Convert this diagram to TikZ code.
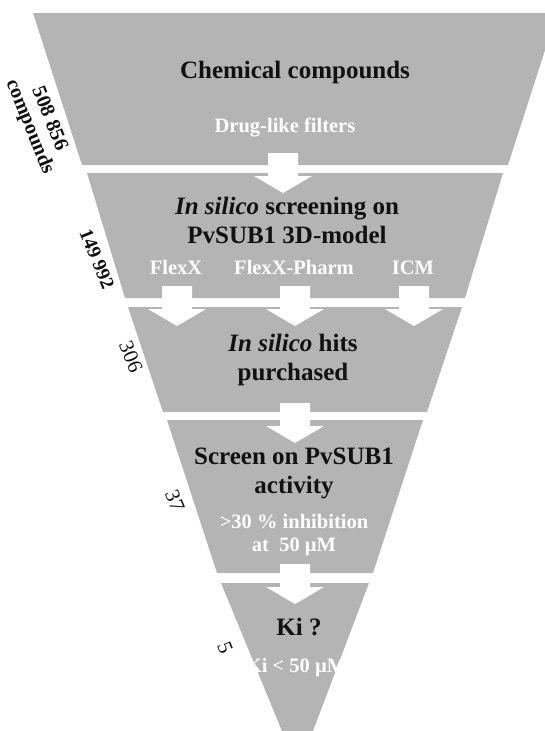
\documentclass[tikz,border=0pt]{standalone}
\usepackage{fontspec}
\setmainfont{Liberation Serif}
\definecolor{funnelgray}{RGB}{180,180,180}
\definecolor{inkblack}{RGB}{17,17,17}
\tikzset{
  pics/blockarrow/.style={code={
    \fill[white] (-15,0) -- (15,0) -- (15,23) -- (29,23) -- (0,40)
      -- (-29,23) -- (-15,23) -- cycle;}}
}

\begin{document}
\begin{tikzpicture}[x=1pt, y=-1pt,
    band/.style={fill=funnelgray},
    title/.style={anchor=base, align=center, text=inkblack, inner sep=0pt,
      font=\bfseries\fontsize{25}{29}\selectfont},
    filter/.style={anchor=base, align=center, text=white, inner sep=0pt,
      font=\bfseries\fontsize{20.5}{23}\selectfont},
    count/.style={rotate=-68, align=center, text=inkblack, inner sep=0pt,
      font=\fontsize{21}{21}\selectfont}]
  \useasboundingbox (0,0) rectangle (545,731);
  \clip (0,0) rectangle (545,731);

  % funnel bands
  \fill[band] (33,13) -- (557,13) -- (508,165) -- (82,165) -- cycle;
  \fill[band] (87,173) -- (503,173) -- (465,298) -- (125,298) -- cycle;
  \fill[band] (128,307) -- (462,307) -- (427,412) -- (163,412) -- cycle;
  \fill[band] (167,420) -- (423,420) -- (373,573) -- (217,573) -- cycle;
  \fill[band] (221,583) -- (369,583) -- (313,731) -- (282,731) -- cycle;

  % arrows between the bands
  \pic at (283,153) {blockarrow};
  \foreach \ax in {177,295,414}
    \pic at (\ax,286) {blockarrow};
  \pic at (295,403) {blockarrow};
  \pic at (295,564) {blockarrow};

  % texts in the funnel (base = last line)
  \node[title] (chem) at (295,78) {Chemical compounds};
  \node[filter] (filters) at (285,132) {Drug-like filters};
  \node[title] (screen) at (287,243) {\textit{In silico} screening on\\PvSUB1 3D-model};
  \node[filter] (flexx) at (176,274) {FlexX};
  \node[filter] (pharm) at (294,274) {FlexX-Pharm};
  \node[filter] (icm) at (413,274) {ICM};
  \node[title] (hits) at (293,380) {\textit{In silico} hits\\purchased};
  \node[title] (assay) at (294,493) {Screen on PvSUB1\\activity};
  \node[filter] (inhib) at (294,551) {>30 \% inhibition\\at\ \ 50 µM};
  \node[title] (ki) at (299,635) {Ki ?};
  \node[filter] (kival) at (296,672) {Ki < 50 µM};

  % numbers along the funnel
  \node[count, font=\bfseries\fontsize{20.5}{21}\selectfont] (n1) at (39,123) {508 856\\compounds};
  \node[count, font=\bfseries\fontsize{19.5}{21}\selectfont] (n2) at (97,259) {149 992};
  \node[count] (n3) at (131,357) {306};
  \node[count] (n4) at (175,501) {37};
  \node[count] (n5) at (225,648) {5};
\end{tikzpicture}
\end{document}
